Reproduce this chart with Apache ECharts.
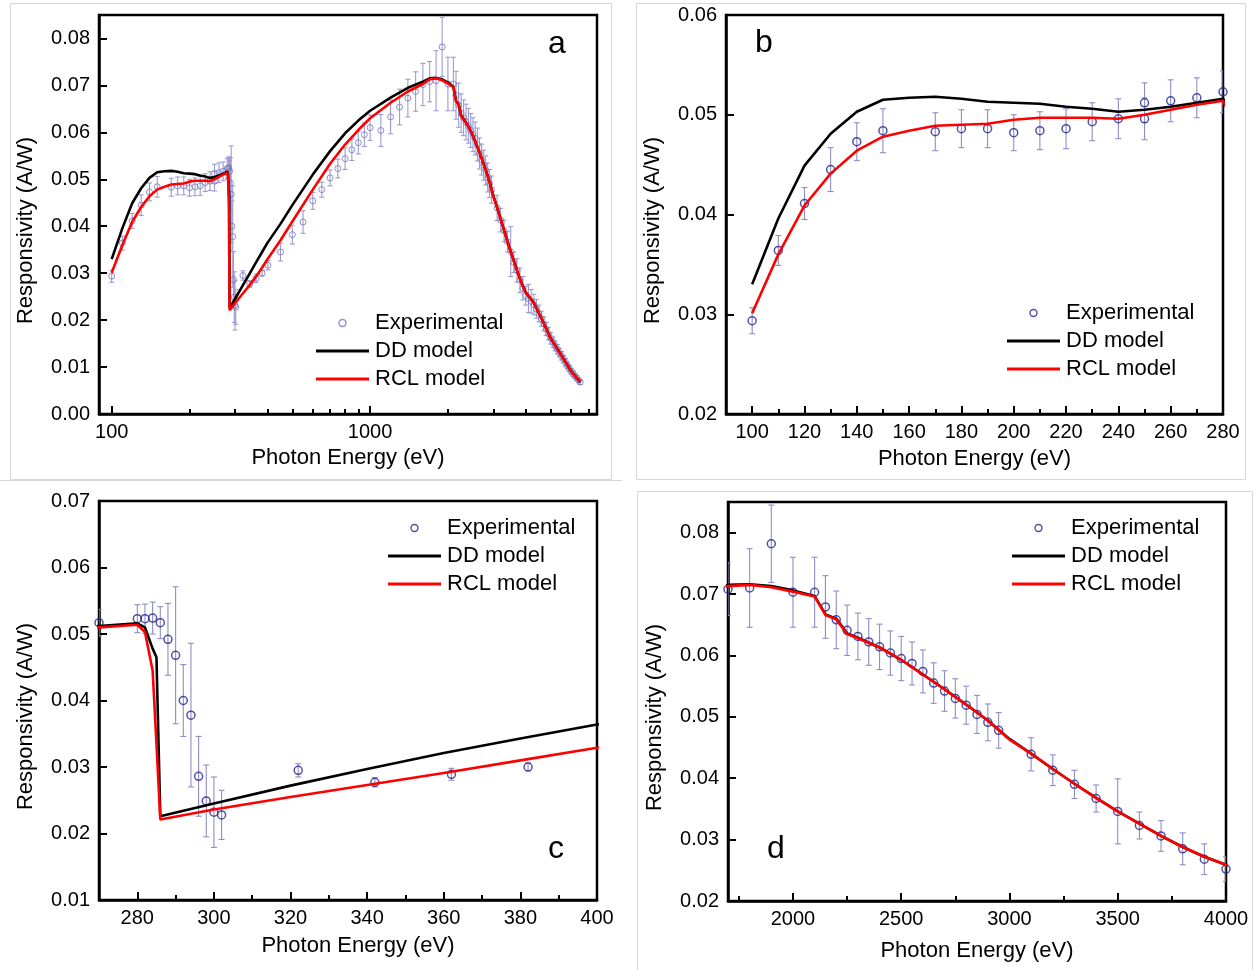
<!DOCTYPE html>
<html><head><meta charset="utf-8">
<script src="https://cdn.jsdelivr.net/npm/echarts@6/dist/echarts.min.js"></script>
<style>html,body{margin:0;padding:0;background:#fff}#c{width:1258px;height:970px}</style>
</head><body><div id="c"></div>
<script>
// ---------- DATA ----------
const expEnergy = [100,110,120,130,140,150,170,180,190,200,210,220,230,240,250,250,260,270,280,
  282,284,286,288,290,292,294,296,298,300,302,322,342,362,382,
  402,450,500,550,600,650,700,750,800,850,900,950,1000,1100,1200,1300,1400,1500,1600,
  1700,1800,1900,2000,2100,2150,2200,2250,2300,2350,2400,2450,2500,2550,2600,2650,2700,2750,2800,2850,2900,2950,
  3100,3200,3300,3400,3500,3600,3700,3800,3900,4000,
  4100,4200,4300,4400,4500,4600,4700,4800,4900,5000,5100,5200,5300,5400,5500,5600,5700,5800,5900,6000,6100,6200,6300,6400,6500];
const expResp = [0.02935,0.0364,0.0411,0.0445,0.0473,0.0484,0.0483,0.0486,0.0486,0.0482,0.0484,0.0486,0.0493,0.0496,0.0512,0.0496,0.0514,0.0517,0.0523,
  0.0523,0.0524,0.0517,0.0492,0.0468,0.0400,0.0378,0.0286,0.0249,0.0232,0.0228,0.0295,0.0277,0.0289,0.0300,
  0.0317,0.0345,0.0382,0.0409,0.0454,0.0478,0.0503,0.0523,0.0544,0.0563,0.0578,0.0595,0.0610,0.0604,0.0633,0.0654,0.0673,0.0687,0.0702,
  0.0708,0.0710,0.0782,0.0703,0.0703,0.0679,0.0658,0.0641,0.0631,0.0622,0.0614,0.0604,0.0595,0.0587,0.0574,0.0555,0.0542,0.0530,0.0519,0.0504,0.0491,0.0478,
  0.0439,0.0413,0.0390,0.0367,0.0346,0.0323,0.0306,0.0285,0.0268,0.0252,
  0.0246,0.0240,0.0233,0.0224,0.0214,0.0203,0.0192,0.0181,0.0171,0.0161,0.0153,0.0145,0.0138,0.0131,0.0124,0.0117,0.0110,0.0103,0.0097,0.0091,0.0086,0.0081,0.0077,0.0072,0.0068];
const expErr = [0.0013,0.0015,0.0016,0.0022,0.0019,0.0022,0.0019,0.0019,0.0019,0.0018,0.0019,0.0020,0.0019,0.0020,0.0020,0.0021,0.0021,0.0020,0.0021,
  0.0022,0.0024,0.0024,0.0054,0.0103,0.0054,0.0108,0.0060,0.0054,0.0053,0.0037,0.0010,0.0007,0.0009,0.0006,
  0.0010,0.0019,0.0020,0.0024,0.0018,0.0016,0.0017,0.0020,0.0023,0.0023,0.0024,0.0025,0.0027,0.0034,0.0036,0.0038,0.0040,0.0042,0.0045,
  0.0043,0.0064,0.0063,0.0057,0.0057,0.0051,0.0047,0.0041,0.0038,0.0038,0.0037,0.0036,0.0036,0.0035,0.0035,0.0033,0.0033,0.0032,0.0031,0.0031,0.0030,0.0029,
  0.0027,0.0025,0.0023,0.0022,0.0053,0.0022,0.0025,0.0026,0.0025,0.0020,
  0.0030,0.0025,0.0022,0.0020,0.0018,0.0016,0.0015,0.0014,0.0013,0.0012,0.0011,0.0010,0.0010,0.0009,0.0009,0.0008,0.0008,0.0007,0.0007,0.0006,0.0006,0.0005,0.0005,0.0005,0.0005];

const modelEnergy = [100,110,120,130,140,150,160,170,180,190,200,210,220,230,240,250,260,270,280,
  282,284,285,286,300,320,340,360,380,400,450,500,600,700,800,900,1000,1200,1400,1600,
  1700,1800,1900,2000,2100,2150,2200,2250,2300,2400,2500,2600,2700,2800,2900,3000,3100,3200,3300,3400,3500,3600,3700,3800,3900,4000,
  4300,4600,5000,5500,6000,6500];
const ddResp = [0.0330,0.0396,0.0449,0.0481,0.0503,0.0515,0.0517,0.0518,0.0516,0.0513,0.0512,0.0511,0.0508,0.0506,0.0503,0.0505,0.0508,0.0512,0.0516,
  0.0510,0.0478,0.0465,0.0226,0.0245,0.0272,0.0297,0.0321,0.0343,0.0364,0.0405,0.0445,0.0510,0.0560,0.0598,0.0625,0.0646,0.0674,0.0695,0.0708,
  0.0715,0.0716,0.0713,0.0706,0.0697,0.0667,0.0660,0.0636,0.0629,0.0613,0.0593,0.0569,0.0545,0.0520,0.0494,0.0464,0.0440,0.0415,0.0391,0.0368,0.0346,0.0326,0.0306,0.0288,0.0272,0.0259,
  0.0237,0.0204,0.0161,0.0125,0.0091,0.0068];
const rclResp = [0.0301,0.0360,0.0409,0.0441,0.0464,0.0478,0.0484,0.0489,0.0490,0.0491,0.0495,0.0497,0.0497,0.0497,0.0496,0.0500,0.0505,0.0510,0.0514,
  0.0503,0.0445,0.0335,0.0221,0.0236,0.0255,0.0273,0.0291,0.0310,0.0329,0.0370,0.0410,0.0478,0.0533,0.0574,0.0605,0.0630,0.0663,0.0687,0.0703,
  0.0713,0.0715,0.0711,0.0704,0.0696,0.0666,0.0659,0.0635,0.0628,0.0613,0.0593,0.0569,0.0545,0.0520,0.0494,0.0463,0.0440,0.0415,0.0391,0.0368,0.0346,0.0326,0.0306,0.0288,0.0272,0.0259,
  0.0237,0.0204,0.0161,0.0125,0.0091,0.0068];

const aXMajor = [100,1000];
const aXMinor = [200,300,400,500,600,700,800,900,2000,3000,4000,5000,6000,7000];
const aYTicks = [0,0.01,0.02,0.03,0.04,0.05,0.06,0.07,0.08];
const bXMajor = [100,120,140,160,180,200,220,240,260,280];
const bXMinor = [110,130,150,170,190,210,230,250,270];
const bYTicks = [0.02,0.03,0.04,0.05,0.06];
const cXMajor = [280,300,320,340,360,380,400];
const cXMinor = [290,310,330,350,370,390];
const cYTicks = [0.01,0.02,0.03,0.04,0.05,0.06,0.07];
const dXMajor = [2000,2500,3000,3500,4000];
const dXMinor = [1750,2250,2750,3250,3750];
const dYTicks = [0.02,0.03,0.04,0.05,0.06,0.07,0.08];

const xTitle = 'Photon Energy (eV)';
const yTitle = 'Responsivity (A/W)';
const names = ['Experimental','DD model','RCL model'];

// ---------- CHART ----------
const FONT = '"Liberation Sans", Arial, Helvetica, sans-serif';
const panels = [
  {letter:'a', lp:[557,44], grid:{left:99,top:15,width:498,height:399}, xType:'log', xMin:89.3, xMax:7550, yMin:0, yMax:0.085,
   xMajor:aXMajor, xMinor:aXMinor, yTicks:aYTicks, sym:6, bw:1, expColor:'#7676bd', errColor:'#9c9cd2', cap:2.5, legend:{left:316, top:312}, xGap:33, xPad:[0,0,0,0]},
  {letter:'b', lp:[764,43], grid:{left:726,top:15,width:497,height:399}, xType:'value', xMin:90, xMax:280, yMin:0.02, yMax:0.06,
   xMajor:bXMajor, xMinor:bXMinor, yTicks:bYTicks, sym:8, bw:1.5, expColor:'#25258f', errColor:'#8e8ec6', cap:3, legend:{left:1007, top:302}, xGap:34, xPad:[0,0,0,0]},
  {letter:'c', lp:[556,849], grid:{left:99,top:501,width:498,height:399}, xType:'value', xMin:270, xMax:400, yMin:0.01, yMax:0.07,
   xMajor:cXMajor, xMinor:cXMinor, yTicks:cYTicks, sym:8, bw:1.5, expColor:'#25258f', errColor:'#8e8ec6', cap:3, legend:{left:388, top:517}, xGap:35, xPad:[0,0,0,20]},
  {letter:'d', lp:[776,849], grid:{left:728,top:502,width:498,height:399}, xType:'value', xMin:1700, xMax:4000, yMin:0.02, yMax:0.085,
   xMajor:dXMajor, xMinor:dXMinor, yTicks:dYTicks, sym:8, bw:1.5, expColor:'#25258f', errColor:'#8e8ec6', cap:3, legend:{left:1012, top:517}, xGap:39, xPad:[0,0,0,0]}
];

const expData = expEnergy.map((e,i)=>[e, expResp[i], expErr[i]]);
const ddData = modelEnergy.map((e,i)=>[e, ddResp[i]]);
const rclData = modelEnergy.map((e,i)=>[e, rclResp[i]]);

function errRender(color, cap){
  return function(params, api){
    const x = api.value(0), y = api.value(1), e = api.value(2);
    const p1 = api.coord([x, y + e]), p2 = api.coord([x, y - e]);
    const st = {stroke: color, lineWidth: 1.1};
    return {type:'group', children:[
      {type:'line', shape:{x1:p1[0], y1:p1[1], x2:p2[0], y2:p2[1]}, style:st},
      {type:'line', shape:{x1:p1[0]-cap, y1:p1[1], x2:p1[0]+cap, y2:p1[1]}, style:st},
      {type:'line', shape:{x1:p2[0]-cap, y1:p2[1], x2:p2[0]+cap, y2:p2[1]}, style:st}
    ]};
  };
}

const grids = [], xAxes = [], yAxes = [], series = [], legends = [], graphics = [];
const lineIcon = 'path://M0,0H53V3H0Z';
panels.forEach((p, i) => {
  grids.push(Object.assign({show:true, borderColor:'#000', borderWidth:2.5, backgroundColor:'transparent', containLabel:false}, p.grid));
  const fmtX = v => String(Math.round(v));
  xAxes.push({
    type:p.xType, gridIndex:i, min:p.xMin, max:p.xMax, position:'bottom',
    name:xTitle, nameLocation:'middle', nameGap:p.xGap,
    nameTextStyle:{fontFamily:FONT, fontSize:22, color:'#000', padding:p.xPad},
    axisLine:{onZero:false, lineStyle:{color:'#000', width:2.5}},
    axisTick:{inside:true, length:8, customValues:p.xMajor, lineStyle:{color:'#000', width:2}},
    axisLabel:{customValues:p.xMajor, formatter:fmtX, margin:8, fontFamily:FONT, fontSize:20, color:'#000'},
    splitLine:{show:false}
  });
  xAxes.push({
    type:p.xType, gridIndex:i, min:p.xMin, max:p.xMax, position:'bottom',
    axisLine:{show:false},
    axisTick:{inside:true, length:5, customValues:p.xMinor, lineStyle:{color:'#000', width:2}},
    axisLabel:{show:false}, splitLine:{show:false}
  });
  yAxes.push({
    type:'value', gridIndex:i, min:p.yMin, max:p.yMax,
    name:yTitle, nameLocation:'middle', nameGap:62,
    nameTextStyle:{fontFamily:FONT, fontSize:22, color:'#000', padding:[0,32,0,0]},
    axisLine:{onZero:false, lineStyle:{color:'#000', width:2.5}},
    axisTick:{inside:true, length:8, customValues:p.yTicks, lineStyle:{color:'#000', width:2}},
    axisLabel:{customValues:p.yTicks, formatter:v => v.toFixed(2), margin:9, fontFamily:FONT, fontSize:20, color:'#000'},
    splitLine:{show:false}
  });
  const inRange = d => d[0] >= p.xMin - 1e-9 && d[0] <= p.xMax + 1e-9;
  const pts = expData.filter(inRange);
  series.push({
    type:'custom', name:'errbars'+p.letter, xAxisIndex:2*i, yAxisIndex:i, clip:true, z:1, silent:true,
    renderItem:errRender(p.errColor, p.cap), data:pts, encode:{x:0, y:1}
  });
  series.push({
    type:'scatter', name:'Experimental', xAxisIndex:2*i, yAxisIndex:i, z:2, silent:true,
    symbol:'circle', symbolSize:p.sym,
    itemStyle:{color:'rgba(255,255,255,0)', borderColor:p.expColor, borderWidth:p.bw},
    data:pts.map(d => [d[0], d[1]])
  });
  series.push({
    type:'line', name:'DD model', xAxisIndex:2*i, yAxisIndex:i, z:3, silent:true,
    symbol:'none', lineStyle:{color:'#000', width:2.6}, itemStyle:{color:'#000'}, data:ddData
  });
  series.push({
    type:'line', name:'RCL model', xAxisIndex:2*i, yAxisIndex:i, z:4, silent:true,
    symbol:'none', lineStyle:{color:'#ff0000', width:2.6}, itemStyle:{color:'#ff0000'}, data:rclData
  });
  legends.push({
    left:p.legend.left, top:p.legend.top, orient:'vertical', itemWidth:53, itemHeight:7, itemGap:6,
    padding:0, selectedMode:false,
    textStyle:{fontFamily:FONT, fontSize:22, color:'#000', padding:[0,0,0,1]},
    data:[
      {name:names[0], icon:'circle', itemStyle:{color:'rgba(255,255,255,0)', borderColor:p.expColor, borderWidth:1.4}},
      {name:names[1], icon:lineIcon, itemStyle:{color:'#000', borderWidth:0}},
      {name:names[2], icon:lineIcon, itemStyle:{color:'#ff0000', borderWidth:0}}
    ]
  });
  graphics.push({type:'text', x:p.lp[0], y:p.lp[1], silent:true, z:10,
    style:{text:p.letter, fontFamily:FONT, fontSize:32, fill:'#000', align:'center', verticalAlign:'middle'}});
});

// light panel frames
const frameStyle = {fill:'none', stroke:'#d6d6d6', lineWidth:1};
graphics.push({type:'rect', silent:true, z:-10, shape:{x:10.5, y:3.5, width:601, height:476}, style:frameStyle});
graphics.push({type:'rect', silent:true, z:-10, shape:{x:636.5, y:3.5, width:609, height:476}, style:frameStyle});
graphics.push({type:'line', silent:true, z:-10, shape:{x1:0, y1:480.5, x2:622, y2:480.5}, style:frameStyle});
graphics.push({type:'rect', silent:true, z:-10, shape:{x:637.5, y:491.5, width:615, height:480}, style:frameStyle});

const chart = echarts.init(document.getElementById('c'), null, {renderer:'canvas'});
chart.setOption({
  animation:false, backgroundColor:'#fff',
  grid:grids, xAxis:xAxes, yAxis:yAxes, series:series, legend:legends, graphic:graphics
});
</script></body></html>
